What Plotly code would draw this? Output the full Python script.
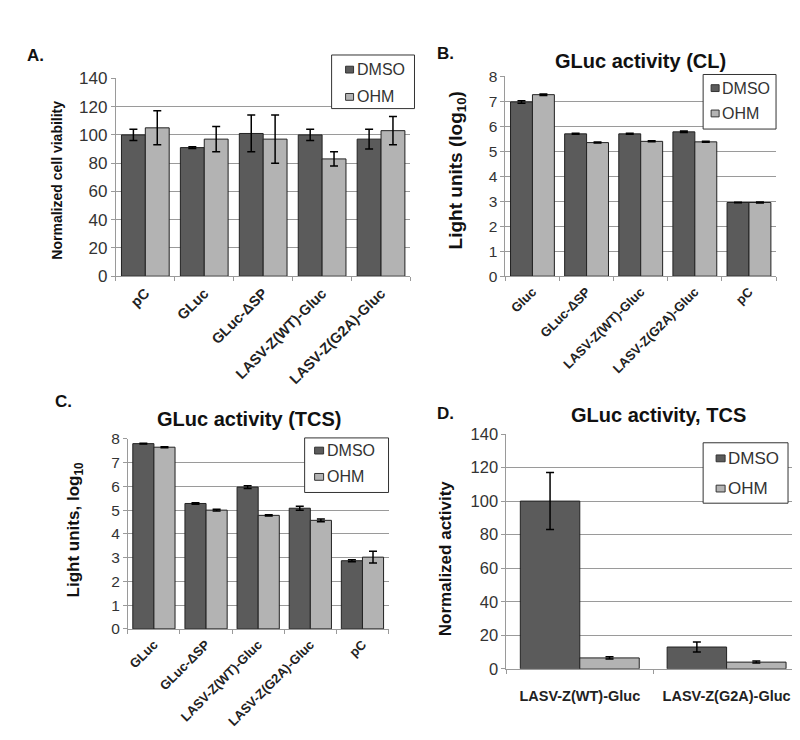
import plotly.graph_objects as go

W, H = 800, 740

# ---- data ----
catA = ["pC", "GLuc", "GLuc-ΔSP", "LASV-Z(WT)-Gluc", "LASV-Z(G2A)-Gluc"]
A_dmso = [100, 91, 101, 100, 97]
A_dmso_err = [4, 0.6, 13, 4, 7]
A_ohm = [105, 97, 97, 83, 103]
A_ohm_err = [12, 9, 17, 5, 10]

catB = ["Gluc", "GLuc-ΔSP", "LASV-Z(WT)-Gluc", "LASV-Z(G2A)-Gluc", "pC"]
B_dmso = [6.98, 5.70, 5.70, 5.78, 2.95]
B_dmso_err = [0.05, 0.02, 0.02, 0.03, 0.01]
B_ohm = [7.27, 5.35, 5.40, 5.38, 2.95]
B_ohm_err = [0.03, 0.02, 0.02, 0.02, 0.02]

catC = ["GLuc", "GLuc-ΔSP", "LASV-Z(WT)-Gluc", "LASV-Z(G2A)-Gluc", "pC"]
C_dmso = [7.80, 5.28, 5.97, 5.08, 2.87]
C_dmso_err = [0.02, 0.03, 0.06, 0.08, 0.04]
C_ohm = [7.65, 5.00, 4.78, 4.57, 3.02]
C_ohm_err = [0.02, 0.04, 0.03, 0.06, 0.25]

catD = ["LASV-Z(WT)-Gluc", "LASV-Z(G2A)-Gluc"]
D_dmso = [100, 13]
D_dmso_err = [17, 3]
D_ohm = [6.5, 4]
D_ohm_err = [0.7, 0.6]

series_names = ["DMSO", "OHM"]

DARK = "#5b5b5b"
LIGHT = "#b3b3b3"
GRID = "#9a9a9a"
FONT = "Liberation Sans, Arial, sans-serif"


def px_x(a, b):
    return [a / W, b / W]


def px_y(top, bottom):
    return [1 - bottom / H, 1 - top / H]


fig = go.Figure()

panels = [
    (catA, A_dmso, A_dmso_err, A_ohm, A_ohm_err, "x", "y"),
    (catB, B_dmso, B_dmso_err, B_ohm, B_ohm_err, "x2", "y2"),
    (catC, C_dmso, C_dmso_err, C_ohm, C_ohm_err, "x3", "y3"),
    (catD, D_dmso, D_dmso_err, D_ohm, D_ohm_err, "x4", "y4"),
]

for cats, dm, dme, oh, ohe, xa, ya in panels:
    for name, vals, errs, col in [(series_names[0], dm, dme, DARK),
                                  (series_names[1], oh, ohe, LIGHT)]:
        fig.add_trace(go.Bar(
            x=cats, y=vals, name=name, xaxis=xa, yaxis=ya, showlegend=False,
            marker=dict(color=col, line=dict(color="#222222", width=1)),
            error_y=dict(type="data", array=errs, color="black", thickness=1.5, width=4),
        ))


def xaxis_cfg(dom, angle, size, anchor, standoff=2):
    return dict(
        domain=dom, anchor=anchor, type="category",
        showline=True, linecolor=GRID, linewidth=1,
        ticks="outside", tickson="boundaries", ticklen=4, tickcolor=GRID,
        tickangle=angle, ticklabelstandoff=standoff,
        tickfont=dict(family=FONT, size=size, color="#222222", weight="bold"),
        showgrid=False, fixedrange=True,
    )


def yaxis_cfg(dom, rng, dtick, size, anchor):
    return dict(
        domain=dom, anchor=anchor, range=rng, dtick=dtick,
        showline=True, linecolor=GRID, linewidth=1,
        ticks="outside", ticklen=4, tickcolor=GRID,
        showgrid=True, gridcolor=GRID, gridwidth=1,
        zeroline=False,
        tickfont=dict(family=FONT, size=size, color="#333333"),
        fixedrange=True,
    )


layout = dict(
    width=W, height=H,
    margin=dict(l=0, r=0, t=0, b=0),
    paper_bgcolor="white", plot_bgcolor="white",
    barmode="group", bargap=0.19, bargroupgap=0.0,
    font=dict(family=FONT, color="#222222"),
    showlegend=False,
    xaxis=xaxis_cfg(px_x(107, 402), -45, 14.5, "y"),
    yaxis=yaxis_cfg(px_y(63, 266), [0, 140], 20, 17, "x"),
    xaxis2=xaxis_cfg(px_x(497, 768), -45, 13, "y2"),
    yaxis2=yaxis_cfg(px_y(61, 266), [0, 8], 1, 15.5, "x2"),
    xaxis3=xaxis_cfg(px_x(119, 380), -45, 13, "y3"),
    yaxis3=yaxis_cfg(px_y(433, 628), [0, 8], 1, 15.5, "x3"),
    xaxis4=xaxis_cfg(px_x(498, 792), 0, 14.5, "y4", standoff=14),
    yaxis4=yaxis_cfg(px_y(428, 669), [0, 140], 20, 16.5, "x4"),
)
fig.update_layout(**layout)

ann = []
shapes = []


def text(x, y, s, size, bold=True, angle=0, anchor="center", color="#111111"):
    ann.append(dict(
        x=x / W, y=1 - y / H, xref="paper", yref="paper",
        text=(f"<b>{s}</b>" if bold else s), showarrow=False,
        xanchor=anchor, yanchor="middle", textangle=angle,
        font=dict(family=FONT, size=size, color=color),
    ))


def rect(x0, y0, x1, y1, fill, lw=1):
    shapes.append(dict(
        type="rect", xref="paper", yref="paper",
        x0=x0 / W, x1=x1 / W, y0=1 - y1 / H, y1=1 - y0 / H,
        line=dict(color="#333333", width=lw), fillcolor=fill, layer="above",
    ))


def legend_box(box, sx, sw, ys, size):
    x0, y0, x1, y1 = box
    rect(x0, y0, x1, y1, "white")
    for name, col, yy in zip(series_names, [DARK, LIGHT], ys):
        rect(sx, yy - 3.5, sx + sw, yy + 3.5, col)
        text(sx + sw + 1, yy, name, size, bold=False, anchor="left", color="#333333")


# legends (one per panel)
legend_box((323, 39, 406, 94), 337, 8, [54, 82], 16)
legend_box((695, 59, 768, 115), 703, 8, [73, 99], 16)
legend_box((296, 432, 380, 488), 306, 9, [445, 472], 16)
legend_box((695, 437, 780, 499), 708, 9, [453, 484], 17)

# panel letters
text(27, 40, "A.", 17)
text(437, 37, "B.", 17)
text(55, 395, "C.", 17)
text(437, 407, "D.", 17)
# titles
text(632, 45, "GLuc activity (CL)", 20)
text(240, 413, "GLuc activity (TCS)", 20)
text(650, 408, "GLuc activity, TCS", 20)
# y-axis titles
text(48, 167, "Normalized cell viability", 14, angle=-90)
text(449, 157, "Light units (log<sub>10</sub>)", 19, angle=-90)
text(67, 526, "Light units, log<sub>10</sub>", 17, angle=-90)
text(437, 556, "Normalized activity", 17, angle=-90)

fig.update_layout(annotations=ann, shapes=shapes)

fig.write_html("out.html")
